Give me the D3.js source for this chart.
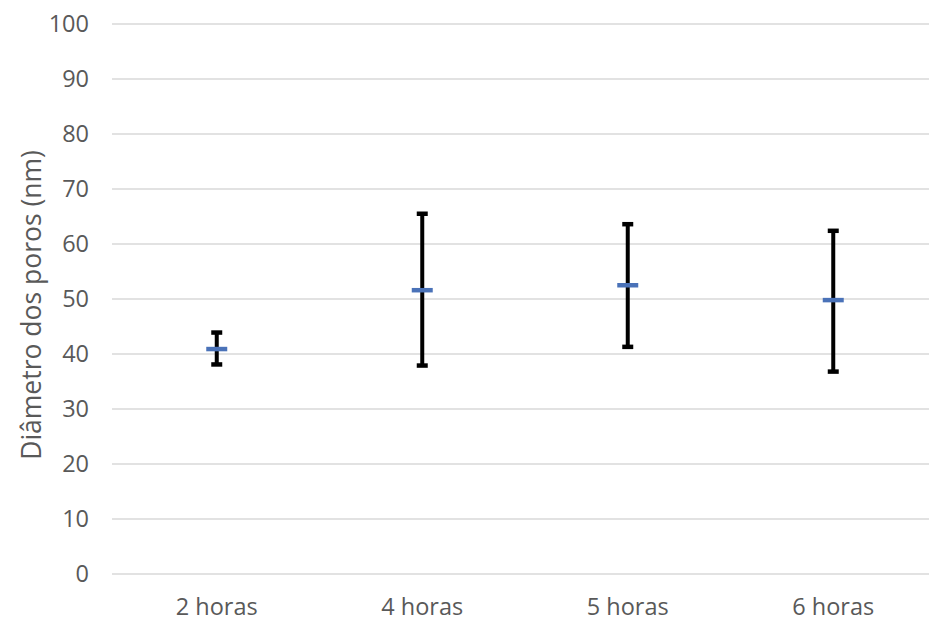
<!DOCTYPE html>
<html>
<head>
<meta charset="utf-8">
<script src="https://cdn.jsdelivr.net/npm/d3@7"></script>
<style>
  html, body { margin: 0; padding: 0; background: #ffffff; }
  svg { display: block; }
</style>
</head>
<body>
<svg id="chart" width="929" height="622"></svg>
<script>
const categories = ["2 horas", "4 horas", "5 horas", "6 horas"];
const meanValues = [40.9, 51.6, 52.5, 49.8];
const lowValues  = [38.1, 37.9, 41.3, 36.8];
const highValues = [43.9, 65.5, 63.6, 62.4];
const yTicks = [0, 10, 20, 30, 40, 50, 60, 70, 80, 90, 100];
const yTitle = "Diâmetro dos poros (nm)";

const data = categories.map((c, i) => ({ cat: c, mean: meanValues[i], low: lowValues[i], high: highValues[i] }));

const svg = d3.select("#chart");
const textColor = "#595959";
const font = "'Open Sans', 'Noto Sans', sans-serif";

const y = d3.scaleLinear().domain([0, 100]).range([574, 24]);
const x = d3.scaleBand().domain(categories).range([114, 936]).padding(0);

// gridlines
svg.append("g").selectAll("line").data(yTicks).join("line")
  .attr("x1", 112).attr("x2", 929)
  .attr("y1", d => y(d)).attr("y2", d => y(d))
  .attr("stroke", "#d9d9d9").attr("stroke-width", 1.5);

// y axis labels
const yAxis = d3.axisLeft(y).tickValues(yTicks).tickSize(0).tickPadding(0).tickFormat(d3.format("d"));
const gy = svg.append("g").attr("transform", "translate(89,0)").call(yAxis);
gy.select(".domain").remove();
gy.selectAll("text").attr("fill", textColor).style("font-family", font).style("font-size", "23.5px");

// x axis labels
const xAxis = d3.axisBottom(x).tickSize(0).tickPadding(0);
const gx = svg.append("g").attr("transform", "translate(0,598)").call(xAxis);
gx.select(".domain").remove();
gx.selectAll("text").attr("fill", textColor).style("font-family", font).style("font-size", "23.5px");

// y title
svg.append("text")
  .attr("transform", "translate(41,305) rotate(-90)")
  .attr("text-anchor", "middle")
  .attr("fill", textColor)
  .style("font-family", font).style("font-size", "26.5px")
  .text(yTitle);

// error bars
const g = svg.append("g");
const cx = d => x(d.cat) + x.bandwidth() / 2;
g.selectAll("line.err").data(data).join("line").attr("class", "err")
  .attr("x1", cx).attr("x2", cx)
  .attr("y1", d => y(d.low)).attr("y2", d => y(d.high))
  .attr("stroke", "#000").attr("stroke-width", 4);
g.selectAll("line.capH").data(data).join("line").attr("class", "capH")
  .attr("x1", d => cx(d) - 5.5).attr("x2", d => cx(d) + 5.5)
  .attr("y1", d => y(d.high)).attr("y2", d => y(d.high))
  .attr("stroke", "#000").attr("stroke-width", 4.5);
g.selectAll("line.capL").data(data).join("line").attr("class", "capL")
  .attr("x1", d => cx(d) - 5.5).attr("x2", d => cx(d) + 5.5)
  .attr("y1", d => y(d.low)).attr("y2", d => y(d.low))
  .attr("stroke", "#000").attr("stroke-width", 4.5);

// mean markers
g.selectAll("line.mean").data(data).join("line").attr("class", "mean")
  .attr("x1", d => cx(d) - 10.5).attr("x2", d => cx(d) + 10.5)
  .attr("y1", d => y(d.mean)).attr("y2", d => y(d.mean))
  .attr("stroke", "#4a72b8").attr("stroke-width", 4.5);
</script>
</body>
</html>
